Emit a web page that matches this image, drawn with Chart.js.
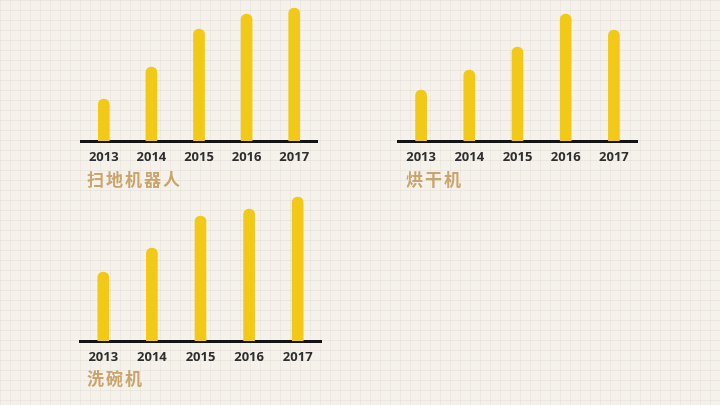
<!DOCTYPE html>
<html>
<head>
<meta charset="utf-8">
<script src="https://cdn.jsdelivr.net/npm/chart.js@4.4.0/dist/chart.umd.min.js"></script>
<style>
  html, body { margin:0; padding:0; }
  body {
    width:720px; height:405px; overflow:hidden; position:relative;
    background-color:#f5f2ec;
    background-image:
      linear-gradient(to right, rgba(200,192,178,0.18) 1px, transparent 1px),
      linear-gradient(to bottom, rgba(200,192,178,0.22) 1px, transparent 1px);
    background-size:10px 10px;
    font-family:"Noto Sans CJK SC","Noto Sans",sans-serif;
  }
  .box { position:absolute; }
  .title { position:absolute; color:#c9a46c; font-size:17px; font-weight:700; letter-spacing:2px; line-height:1; font-family:"Noto Sans CJK SC",sans-serif; }
</style>
</head>
<body>
<div class="box" id="b1" style="left:80px; top:-4px; width:238px; height:174px;"><canvas id="c1"></canvas></div>
<div class="box" id="b2" style="left:397px; top:-4px; width:241px; height:174px;"><canvas id="c2"></canvas></div>
<div class="box" id="b3" style="left:79px; top:196px; width:243px; height:174px;"><canvas id="c3"></canvas></div>
<div class="title" id="t1" style="left:87px; top:170px;">扫地机器人</div>
<div class="title" id="t2" style="left:406px; top:170px;">烘干机</div>
<div class="title" id="t3" style="left:87px; top:369px;">洗碗机</div>
<script>
const years = ["2013", "2014", "2015", "2016", "2017"];
const robotVacuum = [42, 74, 112, 127, 133];
const dryer = [51, 71, 94, 127, 111];
const dishwasher = [69, 93, 125, 132, 144];
const titles = ["扫地机器人", "烘干机", "洗碗机"];
const yMax = 145;

function makeChart(id, values) {
  return new Chart(document.getElementById(id), {
    type: 'bar',
    data: {
      labels: years,
      datasets: [{
        data: values,
        backgroundColor: '#f2c916',
        barThickness: 11,
        borderRadius: 6,
        borderSkipped: 'bottom'
      }]
    },
    options: {
      responsive: true,
      maintainAspectRatio: false,
      animation: false,
      layout: { padding: 0 },
      plugins: { legend: { display: false }, tooltip: { enabled: false }, title: { display: false } },
      scales: {
        y: { display: false, min: 0, max: yMax },
        x: {
          z: 1,
          grid: { display: false, drawTicks: false },
          border: { display: true, color: '#141414', width: 3 },
          ticks: {
            padding: 8,
            color: '#2e2e2e',
            font: { family: '"Open Sans","Noto Sans",sans-serif', size: 13, weight: 'bold' }
          },
          afterFit(scale) { scale.height = 29; }
        }
      }
    }
  });
}
makeChart('c1', robotVacuum);
makeChart('c2', dryer);
makeChart('c3', dishwasher);
</script>
</body>
</html>
